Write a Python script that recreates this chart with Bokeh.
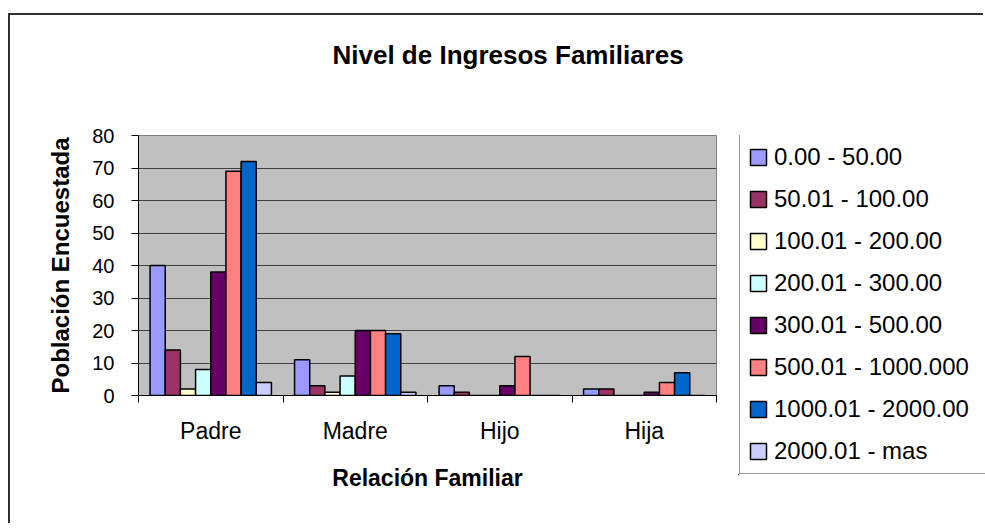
from bokeh.plotting import figure
from bokeh.models import (ColumnDataSource, FixedTicker, Legend, LegendItem,
                          Range1d, Title)
from bokeh.embed import file_html
from bokeh.resources import INLINE

# ---- data ----
categories = ["Padre", "Madre", "Hijo", "Hija"]
series_names = ["0.00 - 50.00", "50.01 - 100.00", "100.01 - 200.00",
                "200.01 - 300.00", "300.01 - 500.00", "500.01 - 1000.000",
                "1000.01 - 2000.00", "2000.01 - mas"]
s_0_50 = [40, 11, 3, 2]
s_50_100 = [14, 3, 1, 2]
s_100_200 = [2, 1, 0, 0]
s_200_300 = [8, 6, 0, 0]
s_300_500 = [38, 20, 3, 1]
s_500_1000 = [69, 20, 12, 4]
s_1000_2000 = [72, 19, 0, 7]
s_2000_mas = [4, 1, 0, 0]
series_values = [s_0_50, s_50_100, s_100_200, s_200_300,
                 s_300_500, s_500_1000, s_1000_2000, s_2000_mas]
colors = ["#9999FF", "#993366", "#FFFFCC", "#CCFFFF",
          "#660066", "#FF8080", "#0066CC", "#CCCCFF"]
y_ticks = [0, 10, 20, 30, 40, 50, 60, 70, 80]

FONT = "Liberation Sans"

positions = list(range(1, len(categories) + 1))

# ---------------- main chart ----------------
p = figure(width=975, height=510, output_backend="svg", toolbar_location=None,
           title=None,
           x_range=Range1d(0.5, len(categories) + 0.5), y_range=Range1d(0, 80),
           min_border_left=128, min_border_right=269, min_border_top=120,
           min_border_bottom=130,
           styles={"margin-left": "8px", "margin-top": "13px",
                   "border-left": "2px solid #303030",
                   "border-top": "2px solid #303030"})

p.background_fill_color = "#C0C0C0"
p.border_fill_color = "white"
p.outline_line_color = "#808080"
p.outline_line_width = 1

# whitespace spacer between frame and title, then the title above it
spacer = Title(text=" ", text_font=FONT, text_font_size="10px", standoff=48)
p.add_layout(spacer, "above")
title = Title(text="Nivel de Ingresos Familiares", align="left", offset=194,
              standoff=10, text_font=FONT, text_font_size="26px",
              text_font_style="bold", text_color="black")
p.add_layout(title, "above")

bw = 0.105
sources = []
for i, (vals, col) in enumerate(zip(series_values, colors)):
    xs = [g + (i - 3.5) * bw for g in positions]
    src = ColumnDataSource(dict(x=xs, top=vals))
    sources.append(src)
    p.vbar(x="x", top="top", bottom=0, width=bw, source=src,
           fill_color=col, line_color="black", line_width=1.5)

# axes
p.xaxis.ticker = FixedTicker(ticks=positions,
                             minor_ticks=[g - 0.5 for g in positions] + [positions[-1] + 0.5])
p.xaxis.major_label_overrides = {g: c for g, c in zip(positions, categories)}
p.xaxis.major_tick_line_color = None
p.xaxis.major_tick_out = 0
p.xaxis.major_tick_in = 0
p.xaxis.minor_tick_line_color = "black"
p.xaxis.minor_tick_out = 7
p.xaxis.minor_tick_in = 0
p.xaxis.axis_line_color = "black"
p.xaxis.major_label_text_font = FONT
p.xaxis.major_label_text_font_size = "23px"
p.xaxis.major_label_text_color = "black"
p.xaxis.major_label_standoff = 15
p.xaxis.axis_label = "Relación Familiar"
p.xaxis.axis_label_text_font = FONT
p.xaxis.axis_label_text_font_size = "23px"
p.xaxis.axis_label_text_font_style = "bold"
p.xaxis.axis_label_text_color = "black"
p.xaxis.axis_label_standoff = 18

p.yaxis.ticker = FixedTicker(ticks=y_ticks, minor_ticks=[])
p.yaxis.major_tick_out = 7
p.yaxis.major_tick_in = 0
p.yaxis.major_tick_line_color = "black"
p.yaxis.axis_line_color = "black"
p.yaxis.major_label_text_font = FONT
p.yaxis.major_label_text_font_size = "20px"
p.yaxis.major_label_text_color = "black"
p.yaxis.major_label_standoff = 17
p.yaxis.axis_label = "Población Encuestada"
p.yaxis.axis_label_text_font = FONT
p.yaxis.axis_label_text_font_size = "24px"
p.yaxis.axis_label_text_font_style = "bold"
p.yaxis.axis_label_text_color = "black"
p.yaxis.axis_label_standoff = 15

p.xgrid.grid_line_color = None
p.ygrid.ticker = FixedTicker(ticks=y_ticks)
p.ygrid.grid_line_color = "#404040"
p.ygrid.grid_line_width = 1

# ---------------- legend box (separate small canvas) ----------------
# its ranges lie away from the data so only the legend itself is visible
q = figure(width=247, height=340, output_backend="svg", toolbar_location=None,
           title=None, x_axis_location=None, y_axis_location=None,
           x_range=Range1d(10, 11), y_range=Range1d(200, 201),
           min_border=0, min_border_left=0, min_border_right=0,
           min_border_top=0, min_border_bottom=0,
           styles={"position": "absolute", "left": "738px", "top": "135px"})
q.background_fill_color = "white"
q.border_fill_color = "white"
q.outline_line_color = None
q.xgrid.grid_line_color = None
q.ygrid.grid_line_color = None

items = []
for name, col, src in zip(series_names, colors, sources):
    r = q.vbar(x="x", top="top", bottom=0, width=bw, source=src,
               fill_color=col, line_color="black", line_width=1.5)
    items.append(LegendItem(label=name, renderers=[r]))

legend = Legend(items=items, location=(1, 1), orientation="vertical",
                label_text_font=FONT, label_text_font_size="24px",
                label_text_color="black", label_height=28, label_width=218,
                glyph_width=20, glyph_height=20, spacing=14, padding=8,
                label_standoff=6, margin=0,
                border_line_color="#303030", border_line_width=1,
                background_fill_color="white", background_fill_alpha=1)
q.add_layout(legend, "center")

open("out.html", "w").write(file_html([p, q], INLINE))
